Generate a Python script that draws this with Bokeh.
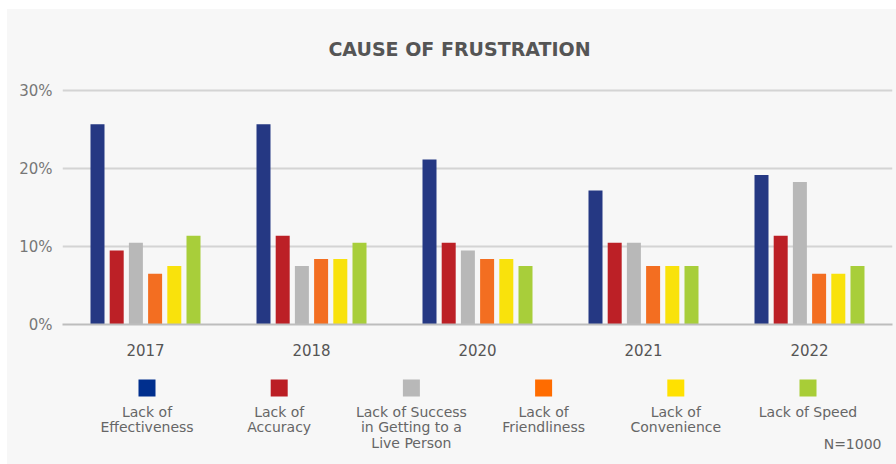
from bokeh.plotting import figure
from bokeh.layouts import column
from bokeh.models import (FactorRange, FixedTicker, PrintfTickFormatter, Range1d,
                          ColumnDataSource)
from bokeh.core.properties import value
from bokeh.transform import dodge
from bokeh.embed import file_html
from bokeh.resources import INLINE

# ---------------- data ----------------
years = ["2017", "2018", "2020", "2021", "2022"]
effectiveness = [25.7, 25.7, 21.2, 17.2, 19.2]
accuracy = [9.5, 11.4, 10.5, 10.5, 11.4]
live_person = [10.5, 7.5, 9.5, 10.5, 18.3]
friendliness = [6.5, 8.4, 8.4, 7.5, 6.5]
convenience = [7.5, 8.4, 8.4, 7.5, 6.5]
speed = [11.4, 10.5, 7.5, 7.5, 7.5]

series_keys = ["effectiveness", "accuracy", "live_person", "friendliness", "convenience", "speed"]
legend_lines = [
    ["Lack of", "Effectiveness"],
    ["Lack of", "Accuracy"],
    ["Lack of Success", "in Getting to a", "Live Person"],
    ["Lack of", "Friendliness"],
    ["Lack of", "Convenience"],
    ["Lack of Speed"],
]
y_ticks = [0, 10, 20, 30]
title_text = "CAUSE OF FRUSTRATION"
note_text = "N=1000"

# ---------------- style ----------------
BG = "#f7f7f7"
bar_colors = ["#253883", "#bc2026", "#b8b8b8", "#f36e21", "#f9e20c", "#a8ce3a"]
swatch_colors = ["#002f8e", "#bb1e24", "#b8b8b8", "#ff6c00", "#ffe100", "#a8cd37"]
FONT = "DejaVu Sans"
W = 889  # card width (window 7..896)
FRAME_L, FRAME_R = 62, 892  # window x of the (column-aligned) plot frames


def blank_fig(y0, y1):
    f = figure(width=W, height=y1 - y0, x_range=Range1d(FRAME_L, FRAME_R),
               y_range=Range1d(y1, y0),
               output_backend="svg", toolbar_location=None,
               min_border_left=FRAME_L - 7, min_border_right=896 - FRAME_R,
               min_border_top=0, min_border_bottom=0,
               background_fill_color=BG, border_fill_color=BG, outline_line_color=None)
    f.axis.visible = False
    f.grid.visible = False
    return f


# ---------------- title ----------------
tf = blank_fig(9, 69)
tf.text(x=[459], y=[48.5], text=[title_text], text_align="center", text_baseline="middle",
        text_font=value(FONT), text_font_style="bold", text_font_size="19px",
        text_color="#555555")

# ---------------- main chart ----------------
src = ColumnDataSource(dict(year=years, effectiveness=effectiveness, accuracy=accuracy,
                            live_person=live_person, friendliness=friendliness,
                            convenience=convenience, speed=speed))

p = figure(x_range=FactorRange(*years), y_range=(0, 30.3),
           width=W, height=296,
           output_backend="svg", toolbar_location=None,
           min_border_left=FRAME_L - 7, min_border_right=896 - FRAME_R,
           min_border_top=19, min_border_bottom=41,
           background_fill_color=BG, border_fill_color=BG, outline_line_color=None)

step = 19.2 / 166.0
bw = 14.0 / 166.0
for i, (key, col) in enumerate(zip(series_keys, bar_colors)):
    off = (i - 2.5) * step
    p.vbar(x=dodge("year", off, range=p.x_range), top=key, width=bw, bottom=0,
           source=src, fill_color=col, line_color=None)

p.xaxis.axis_line_color = "#bdbdbd"
p.xaxis.axis_line_width = 2
p.xaxis.major_tick_line_color = None
p.xaxis.minor_tick_line_color = None
p.xaxis.major_label_standoff = 13
p.xaxis.major_label_text_font = FONT
p.xaxis.major_label_text_font_size = "15px"
p.xaxis.major_label_text_color = "#555555"

p.yaxis.axis_line_color = None
p.yaxis.major_tick_line_color = None
p.yaxis.minor_tick_line_color = None
p.yaxis.ticker = FixedTicker(ticks=y_ticks)
p.yaxis.formatter = PrintfTickFormatter(format="%d%%")
p.yaxis.major_label_standoff = 4
p.yaxis.major_label_text_font = FONT
p.yaxis.major_label_text_font_size = "15px"
p.yaxis.major_label_text_color = "#777777"

p.xgrid.grid_line_color = None
p.ygrid.ticker = FixedTicker(ticks=y_ticks)
p.ygrid.grid_line_color = "#d4d4d4"
p.ygrid.grid_line_width = 2

# ---------------- legend ----------------
lf = blank_fig(365, 464)
first_cx, cx_step = 146.5, 132.2
centers = [first_cx + i * cx_step for i in range(len(legend_lines))]
lf.rect(x=centers, y=[387.5] * len(centers), width=17, height=17,
        fill_color=swatch_colors, line_color=None)
line_y0, line_dy = 411, 15.8
tx, ty, tt = [], [], []
for cx, lines in zip(centers, legend_lines):
    for j, t in enumerate(lines):
        tx.append(cx)
        ty.append(line_y0 + j * line_dy)
        tt.append(t)
lf.text(x=tx, y=ty, text=tt, text_align="center", text_baseline="middle",
        text_font=value(FONT), text_font_size="14px", text_color="#666666")
lf.text(x=[881], y=[443.5], text=[note_text], text_align="right", text_baseline="middle",
        text_font=value(FONT), text_font_size="14px", text_color="#666666")

layout = column(tf, p, lf, spacing=0, margin=(9, 0, 0, 7),
                styles={"background-color": BG})
open("out.html", "w").write(file_html(layout, INLINE))
